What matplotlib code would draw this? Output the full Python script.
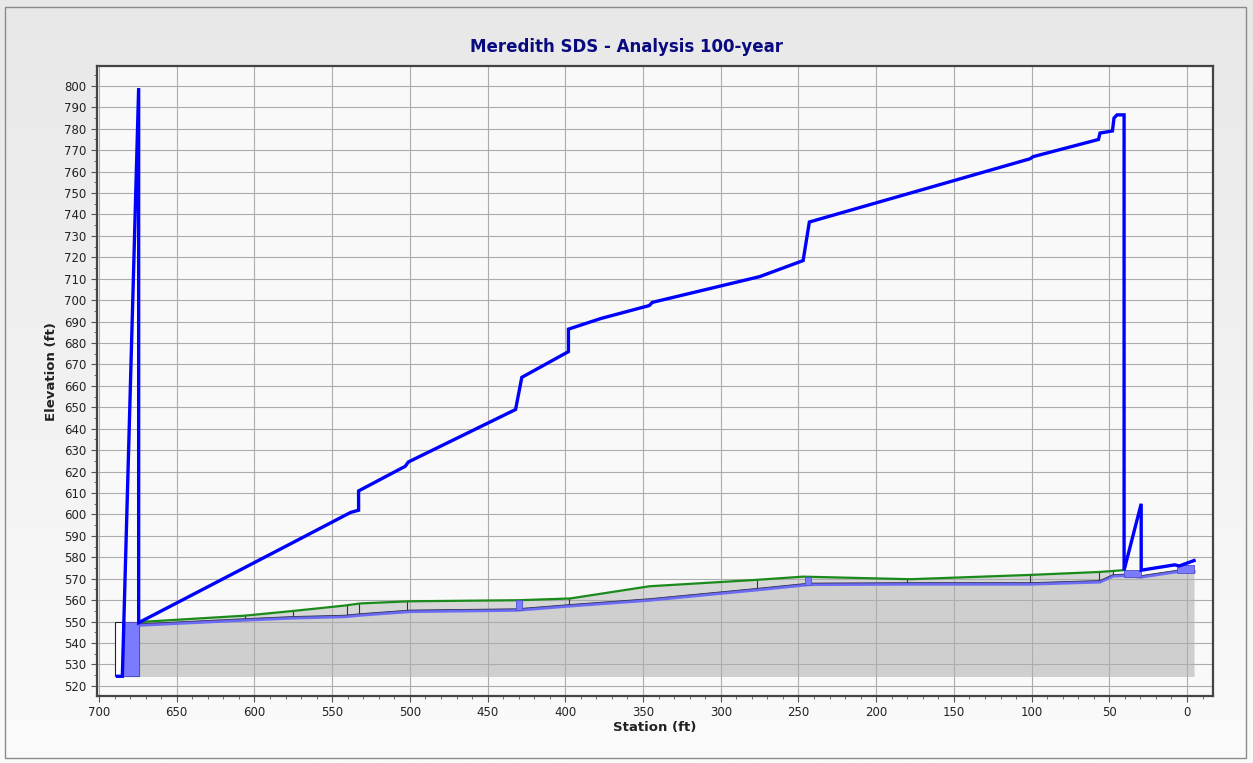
#!/usr/bin/env python3
# -*- coding: utf-8 -*-
import numpy as np
import matplotlib
matplotlib.use('Agg')
import matplotlib.pyplot as plt
from matplotlib.patches import Rectangle
from matplotlib.ticker import MultipleLocator

# hydraulic grade line (station ft, elevation ft)
hgl_station = [688, 685, 674.5, 674.5, 575, 542, 538, 533, 533, 503, 501, 432, 428,
               398, 398, 377, 346, 344, 275, 247, 243, 101, 99, 57, 56, 48, 47, 45,
               40.5, 40.5, 29.5, 29.5, 8, 5, -4.5]
hgl_elev = [524.5, 524.5, 799, 549.5, 587, 599.5, 601, 602, 611, 622.5, 624.5, 649, 664,
            676, 686.5, 691.5, 697.5, 699, 711, 718.5, 736.5, 766, 767, 775, 778, 779, 785, 786.5,
            786.5, 574, 605, 574, 576.5, 576, 578.5]

# ground surface
ground_station = [674.5, 606, 575, 542, 532, 500, 430, 397, 346, 277, 247, 178, 101, 56, 41]
ground_elev = [549.8, 552.8, 555, 557.5, 558.5, 559.5, 560, 560.8, 566.5, 569.5, 571,
               569.8, 571.8, 573.2, 574]

# pipe invert
invert_station = [674.5, 606, 575, 542, 532, 500, 432, 428, 397, 346, 277, 247, 243,
                  178, 101, 56, 47.5, 40.5, 29.5, 6.4, -4.5]
invert_elev = [548.3, 550.7, 551.7, 552.3, 553, 554.7, 555.3, 555.5, 557.3, 560, 564.8,
               567, 567.3, 567.5, 567.5, 568.5, 571.3, 571.5, 570.8, 573.3, 573.3]

# node ticks between invert and ground
node_station = [606, 575, 540.5, 532.8, 502, 397.7, 276.7, 180, 101, 56.6, 47.6]

# structures: (left station, right station, bottom, top)
structures = [(685.5, 674.5, 524.5, 549.8), (432, 428, 555.3, 560),
              (245.5, 242, 567, 570.8), (40.5, 29.5, 570.7, 574), (6.4, -4.5, 572.5, 576.3)]

base_elev = 524.4

fig = plt.figure(figsize=(12.53, 7.63), dpi=100)
fig.patch.set_facecolor('white')

# background gradient of the panel
bg = fig.add_axes([0, 0, 1, 1], zorder=-10)
grad = np.linspace(0, 1, 256).reshape(-1, 1)
bg.imshow(grad, aspect='auto', cmap=matplotlib.colors.LinearSegmentedColormap.from_list(
    'g', ['#e8e8e8', '#fbfbfb']), extent=[0, 1, 0, 1])
bg.set_xlim(0, 1)
bg.set_ylim(0, 1)
bg.axis('off')
fig.add_artist(Rectangle((5 / 1253, 1 - 758 / 763), 1241 / 1253, 751 / 763,
                         transform=fig.transFigure, fill=False, edgecolor='#8a8a8a', lw=1))

ax = fig.add_axes([97 / 1253, 1 - 696 / 763, (1213 - 97) / 1253, (696 - 66) / 763])
ax.set_facecolor('#f9f9f9')

st_i = np.array(invert_station)
el_i = np.array(invert_elev)
gr_on_i = np.interp(-st_i, -np.array(ground_station), ground_elev)
mask = st_i >= 41
ax.fill_between(st_i, base_elev, el_i, color='#cfcfcf', lw=0, zorder=1)
ax.fill_between(st_i[mask], el_i[mask], gr_on_i[mask], color='#d6d6d6', lw=0, zorder=1)
ax.fill_between([6.4, -4.5], base_elev, 576.3, color='#cfcfcf', lw=0, zorder=1)

for s in node_station:
    ax.plot([s, s], [np.interp(-s, -st_i, el_i), np.interp(-s, -np.array(ground_station), ground_elev)],
            color='#333333', lw=0.8, zorder=2)

ax.plot(ground_station, ground_elev, color='#1a8a1a', lw=1.6, zorder=3)
ax.plot(invert_station, invert_elev, color='#6b6bf5', lw=2.2, zorder=3)
ax.plot(invert_station, np.array(invert_elev) + 0.7, color='#333355', lw=0.6, zorder=3)

# left structure outline
ax.add_patch(Rectangle((674.5, 524.5), 15, 25.3, facecolor='white', edgecolor='#222222', lw=0.8, zorder=2))
for l, r, b, t in structures:
    ax.add_patch(Rectangle((r, b), l - r, t - b, facecolor='#7b7bff', edgecolor='#5050d0', lw=0.6, zorder=4))

ax.plot(hgl_station, hgl_elev, color='#0000ff', lw=2.4, zorder=5, solid_joinstyle='miter')

ax.set_xlim(701.3, -16.7)
ax.set_ylim(515.3, 809.3)
ax.xaxis.set_major_locator(MultipleLocator(50))
ax.xaxis.set_minor_locator(MultipleLocator(10))
ax.yaxis.set_major_locator(MultipleLocator(10))
ax.yaxis.set_minor_locator(MultipleLocator(5))
ax.grid(which='major', color='#acacac', lw=0.8)
ax.tick_params(which='both', direction='out', colors='#555555', labelcolor='#222222', labelsize=8.5)
ax.tick_params(which='major', length=4)
ax.tick_params(which='minor', length=2)
for sp in ax.spines.values():
    sp.set_color('#444444')
    sp.set_linewidth(1.6)

fig.text(0.5, 1 - 47 / 763, 'Meredith SDS - Analysis 100-year', ha='center', va='center',
         fontsize=12, fontweight='bold', color='#0a0a80')
fig.text(655 / 1253, 1 - 727 / 763, 'Station (ft)', ha='center', va='center',
         fontsize=9.5, fontweight='bold', color='#222222')
fig.text(52 / 1253, 1 - 372 / 763, 'Elevation (ft)', ha='center', va='center', rotation=90,
         fontsize=9.5, fontweight='bold', color='#222222')

fig.savefig('out.png', dpi=100)
